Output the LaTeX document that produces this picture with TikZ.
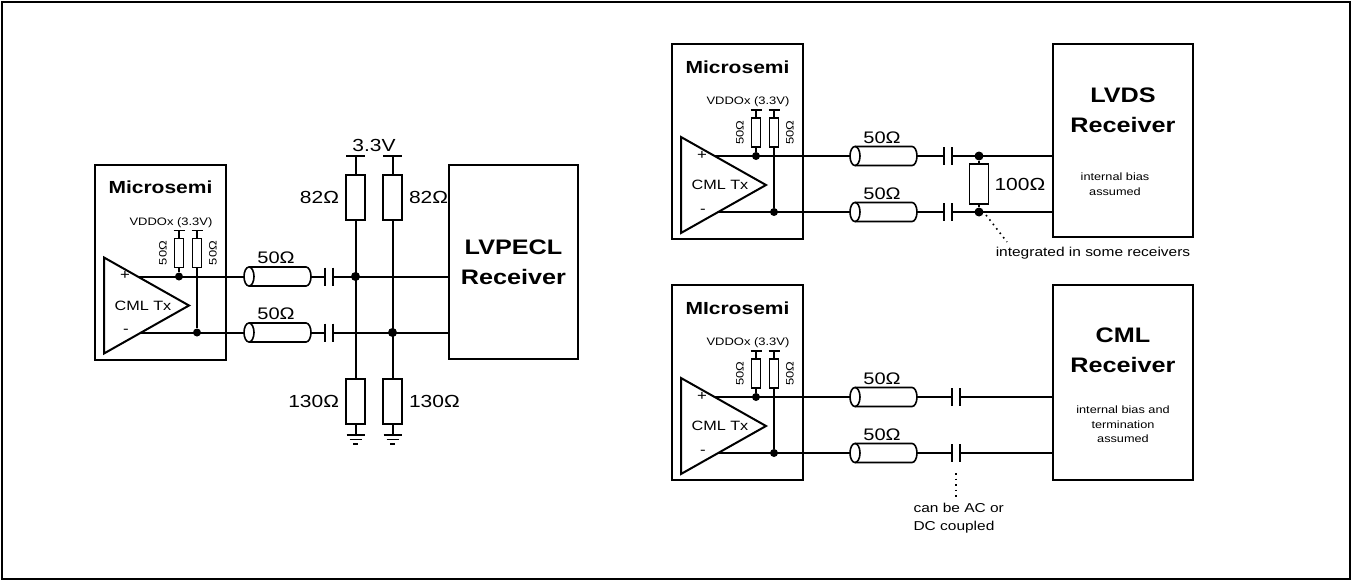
\documentclass[tikz,border=0pt]{standalone}
\usepackage{fontspec}
\setmainfont{Liberation Sans}[FakeStretch=1.2]
\usetikzlibrary{positioning}

\tikzset{
  wire/.style={line width=2pt},
  res/.style={draw, line width=1.6pt, minimum width=19pt, minimum height=45pt, inner sep=0pt},
  smallres/.style={draw, line width=1.3pt, minimum width=9pt, minimum height=29pt, inner sep=0pt},
  rxbox/.style={draw, line width=2pt, minimum width=140pt, minimum height=194pt, inner sep=0pt},
  dot/.style={circle, fill, inner sep=0pt, minimum size=9pt},
  ohm/.style={font=\fontsize{17.5}{20}\selectfont, inner sep=0pt},
  big/.style={font=\bfseries\fontsize{21}{30}\selectfont, align=center},
  tiny/.style={font=\fontsize{10.6}{14.5}\selectfont, align=center},
  note/.style={font=\fontsize{12.9}{18}\selectfont},
  dotline/.style={line width=1.6pt, dash pattern=on 1.6pt off 4pt},
  pics/cmltx/.style={code={
    \draw[wire] (0,0) rectangle (131,195);
    \node[font=\bfseries\fontsize{17.5}{20}\selectfont] at (65.5,23) {#1};
    \node[font=\fontsize{10.8}{12}\selectfont] at (76,58) {VDDOx (3.3V)};
    \draw[wire, line join=miter] (9,93) -- (94,141) -- (9,189) -- cycle;
    \node[font=\fontsize{14}{16}\selectfont] at (30,111) {+};
    \node[font=\fontsize{14}{16}\selectfont] at (31,167) {-};
    \node[font=\fontsize{13.5}{16}\selectfont] at (48,141) {CML Tx};
    \node[smallres] (-rp) at (84,88.5) {};
    \node[smallres] (-rn) at (102,88.5) {};
    \node[rotate=90, font=\fontsize{10.8}{12}\selectfont] at (68,88.5) {50Ω};
    \node[rotate=90, font=\fontsize{10.8}{12}\selectfont] at (118,88.5) {50Ω};
    \draw[line width=1.3pt] (78.5,66) -- (89.5,66) (84,66) -- (-rp.north);
    \draw[line width=1.3pt] (96.5,66) -- (107.5,66) (102,66) -- (-rn.north);
    \node[dot, minimum size=8pt] (-dp) at (84,112) {};
    \node[dot, minimum size=8pt] (-dn) at (102,168) {};
    \draw[wire] (-rp) -- (-dp) (-rn) -- (-dn);
    \coordinate (-p) at (42.6,112);
    \coordinate (-n) at (46,168);
  }},
  pics/coax/.style={code={
    \draw[line width=1.6pt] (0,0) ellipse [x radius=5, y radius=9.5];
    \draw[line width=1.6pt] (0,-9.5) -- (57,-9.5) arc[start angle=-90, end angle=90, x radius=5, y radius=9.5] -- (0,9.5);
    \node[font=\fontsize{16.7}{18}\selectfont] at (27,-18.5) {50Ω};
    \coordinate (-in) at (-5,0);
    \coordinate (-out) at (62,0);
  }},
  pics/cap/.style={code={
    \draw[wire] (0,-9) -- (0,9) (8,-9) -- (8,9);
    \coordinate (-a) at (0,0);
    \coordinate (-b) at (8,0);
  }},
  pics/gnd/.style={code={
    \draw[line width=1.6pt] (-9,0) -- (9,0) (-6,4.5) -- (6,4.5) (-2.5,9) -- (2.5,9);
  }},
}

\begin{document}
\begin{tikzpicture}[x=1pt, y=-1pt]
\useasboundingbox (0,0) rectangle (1352,581);
\draw[wire] (2,2) rectangle (1350,579);

% LVPECL
\pic (L) at (95,164.5) {cmltx=Microsemi};
\pic (La) at (249,276.5) {coax};
\pic (Lb) at (249,332.5) {coax};
\pic (Lka) at (325,276.5) {cap};
\pic (Lkb) at (325,332.5) {cap};
\node[rxbox, minimum width=129pt, big] (pecl) at (513.5,262) {LVPECL\\Receiver};
\node[res] (R1) at (355.5,197.5) {};
\node[res] (R2) at (392.5,197.5) {};
\node[res] (R3) at (355.5,401.5) {};
\node[res] (R4) at (392.5,401.5) {};
\coordinate (v1) at (355.5,156);
\coordinate (v2) at (392.5,156);
\coordinate (g1) at (355.5,435);
\coordinate (g2) at (392.5,435);
\node[dot] (d1) at (355.5,276.5) {};
\node[dot] (d2) at (392.5,332.5) {};
\draw[wire] (L-p) -- (La-in) (La-out) -- (Lka-a) (Lka-b) -- (Lka-b -| pecl.west);
\draw[wire] (L-n) -- (Lb-in) (Lb-out) -- (Lkb-a) (Lkb-b) -- (Lkb-b -| pecl.west);
\draw[wire] (v1) -- (R1) -- (R3) -- (g1);
\draw[wire] (v2) -- (R2) -- (R4) -- (g2);
\draw[wire] (v1) ++(-9.5,0) -- ++(19,0);
\draw[wire] (v2) ++(-9.5,0) -- ++(19,0);
\pic at (g1) {gnd};
\pic at (g2) {gnd};
\node[ohm] at (374,145) {3.3V};
\node[ohm, left=6pt of R1] {82Ω};
\node[ohm, right=6pt of R2] {82Ω};
\node[ohm, left=6pt of R3] {130Ω};
\node[ohm, right=6pt of R4] {130Ω};

% LVDS
\pic (T) at (672,44) {cmltx=Microsemi};
\pic (Ta) at (855,156) {coax};
\pic (Tb) at (855,212) {coax};
\pic (Tka) at (944,156) {cap};
\pic (Tkb) at (944,212) {cap};
\node[rxbox, minimum height=193pt] (lvds) at (1123,140.5) {};
\node[big] at (1123,110) {LVDS\\Receiver};
\node[tiny] at (1115,184) {internal bias\\assumed};
\node[dot] (d3) at (979,156) {};
\node[dot] (d4) at (979,212) {};
\node[res, minimum height=40pt] (R5) at (979,184) {};
\node[ohm, right=5pt of R5] {100Ω};
\draw[wire] (T-p) -- (Ta-in) (Ta-out) -- (Tka-a) (Tka-b) -- (Tka-b -| lvds.west);
\draw[wire] (T-n) -- (Tb-in) (Tb-out) -- (Tkb-a) (Tkb-b) -- (Tkb-b -| lvds.west);
\draw[wire] (d3) -- (R5) -- (d4);
\node[note] (integ) at (1093,253) {integrated in some receivers};
\coordinate (i1) at (1007,242);
\draw[dotline] ([shift={(7,3)}]d4.center) -- (i1);

% CML
\pic (B) at (672,285) {cmltx=MIcrosemi};
\pic (Ba) at (855,397) {coax};
\pic (Bb) at (855,453) {coax};
\pic (Bka) at (952,397) {cap};
\pic (Bkb) at (952,453) {cap};
\node[rxbox, minimum height=195pt] (cml) at (1123,382.5) {};
\node[big] at (1123,350) {CML\\Receiver};
\node[tiny] at (1123,424.5) {internal bias and\\termination\\assumed};
\draw[wire] (B-p) -- (Ba-in) (Ba-out) -- (Bka-a) (Bka-b) -- (Bka-b -| cml.west);
\draw[wire] (B-n) -- (Bb-in) (Bb-out) -- (Bkb-a) (Bkb-b) -- (Bkb-b -| cml.west);
\coordinate (c1) at (956,473);
\coordinate (c2) at (956,498);
\draw[dotline] (c1) -- (c2);
\node[note, align=left, anchor=west] (acdc) at (910,518) {can be AC or\\DC coupled};
\end{tikzpicture}
\end{document}
